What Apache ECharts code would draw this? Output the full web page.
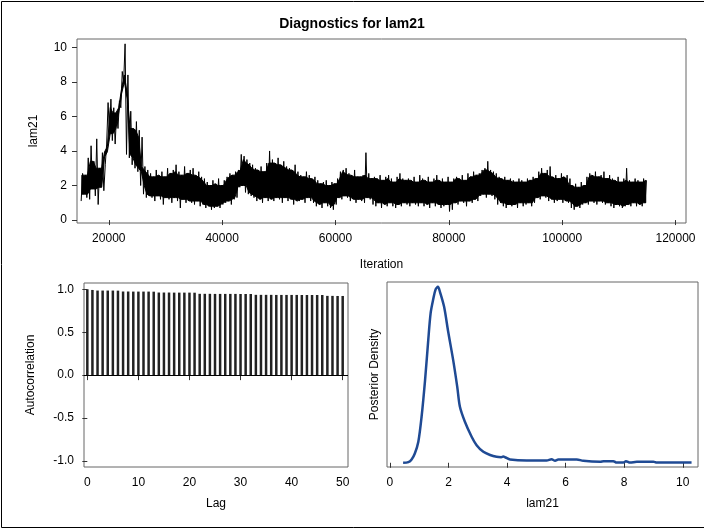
<!DOCTYPE html>
<html>
<head>
<meta charset="utf-8">
<script src="https://cdn.jsdelivr.net/npm/echarts@6/dist/echarts.min.js"></script>
<style>
html,body{margin:0;padding:0;background:#fff;}
#chart{width:704px;height:531px;}
</style>
</head>
<body>
<div id="chart"></div>
<script>
// ---- Trace plot: lam21 vs iteration (low/high range read in each 500-iteration bin) ----
var traceStart = 15000;
var traceBin = 500;
var traceLam21 = [
  1.1,2.7, 1.5,2.6,
  1.3,3.6, 1.2,4.3,
  1.8,3.4, 1.4,4.7, 0.9,3.0, 1.9,3.9, 1.7,3.2,
  4.4,6.8,
  5.0,7.0, 4.6,6.5, 4.4,6.2, 5.3,6.9,
  6.5,8.6,
  8.0,10.2,
  3.8,8.4,
  3.6,6.3,
  3.2,5.3, 3.0,5.7, 2.8,5.2, 2.0,4.8,
  1.5,3.1, 1.3,2.9,
  1.4,2.7, 1.3,2.5, 1.1,2.9, 1.4,2.6, 1.2,2.8, 0.9,2.5, 1.3,3.0, 1.2,2.7, 1.0,2.9, 1.3,3.2, 1.1,2.8, 0.7,2.6, 1.2,3.1, 1.0,2.7, 1.1,2.9,
  1.0,3.0, 0.9,2.6, 1.1,2.8, 0.8,2.5, 0.9,2.4,
  0.7,2.2, 0.8,2.0, 0.6,2.3, 0.7,2.1, 0.8,2.4, 0.7,2.0, 0.9,2.3,
  1.0,2.5, 1.1,2.7, 0.9,2.6, 1.2,2.8, 1.3,2.9,
  1.9,3.8, 2.0,3.7,
  1.6,3.5, 1.5,3.3, 1.4,3.2, 1.3,3.0,
  1.1,2.9, 1.2,3.1, 1.0,2.8, 1.3,3.3, 1.1,4.0,
  1.2,3.5, 1.1,3.3, 1.3,3.6, 1.2,3.2, 1.0,3.4, 1.3,3.1, 1.1,3.0, 1.2,2.9, 0.9,3.2, 1.1,2.8,
  1.1,2.6, 1.2,2.5, 1.0,2.8, 1.3,2.6, 1.1,2.4, 1.0,2.5,
  0.8,2.3, 0.9,2.1, 0.7,2.2, 1.0,2.3, 0.8,2.0, 0.7,2.2, 0.6,2.1, 0.9,2.4,
  1.3,2.8, 1.2,2.9, 1.4,3.0, 1.3,2.7, 1.1,2.6, 1.2,2.9, 1.0,2.5,
  1.2,2.5, 1.1,2.6, 1.0,3.9, 1.3,2.7, 1.2,2.4,
  0.9,2.5, 0.8,2.4, 1.0,2.6, 0.7,2.3, 0.9,2.5, 0.8,2.6, 1.0,2.4, 0.8,2.2, 0.7,2.5, 0.9,2.7, 0.8,2.4, 1.0,2.3,
  0.9,2.4, 0.8,2.3, 1.0,2.5, 0.9,2.2, 0.8,2.6, 1.0,2.4, 0.8,2.3, 0.9,2.5, 0.7,2.2, 1.0,2.4, 0.8,2.6, 0.9,2.3, 0.7,2.4, 0.8,2.2, 0.9,2.5,
  0.5,2.2, 0.6,2.4,
  1.0,2.5, 0.9,2.4, 1.1,2.6, 1.0,2.3, 0.8,2.7, 1.1,2.5, 1.0,2.8, 1.2,2.6, 1.1,2.7,
  1.4,2.9, 1.5,3.0, 1.3,3.4, 1.5,2.9, 1.4,2.8, 1.2,2.7,
  0.9,2.5, 1.0,2.4, 0.8,2.5, 0.7,2.3, 0.9,2.4,
  0.8,2.3, 0.9,2.2, 0.7,2.4, 1.0,2.3, 0.8,2.2, 0.9,2.4, 1.0,2.3, 0.8,2.5, 1.0,2.4,
  1.3,2.8, 1.2,3.0, 1.4,2.7, 1.3,2.9,
  1.1,3.1, 1.2,2.5, 1.0,2.6, 1.1,2.4, 1.2,2.7, 1.0,2.5, 1.1,2.6, 1.0,2.4,
  0.7,2.0, 0.6,2.1, 0.8,1.9, 0.7,2.2, 0.9,2.0,
  1.0,2.5, 0.9,2.7, 1.1,2.6, 1.0,2.8, 0.9,2.5, 1.1,2.6, 1.0,2.8, 0.9,2.4, 1.0,2.6,
  0.8,2.4, 0.7,2.3, 0.9,2.5, 0.8,2.2, 0.7,2.4, 0.8,3.0,
  0.9,2.3, 0.8,2.2, 1.0,2.4, 0.8,2.3, 0.9,2.2, 0.8,2.4, 1.0,2.3
];
var traceXTicks = [20000, 40000, 60000, 80000, 100000, 120000];
var traceYTicks = [0, 2, 4, 6, 8, 10];

// ---- Autocorrelation by lag ----
var acfLags = [];
for (var l = 0; l <= 50; l++) acfLags.push(l);
var acfValues = [
  1.000, 0.992, 0.985, 0.985, 0.985, 0.985, 0.984,
  0.974, 0.974, 0.973, 0.973, 0.973, 0.973, 0.972,
  0.962, 0.962, 0.962, 0.961, 0.961, 0.961, 0.961, 0.960,
  0.947, 0.947, 0.947, 0.946, 0.946, 0.946, 0.946, 0.946, 0.945, 0.945, 0.945,
  0.935, 0.935, 0.935, 0.935, 0.934, 0.934, 0.934, 0.934, 0.934, 0.933, 0.933, 0.933, 0.933, 0.933,
  0.923, 0.923, 0.922, 0.922
];
var acfXTicks = [0, 10, 20, 30, 40, 50];
var acfYTicks = [-1.0, -0.5, 0.0, 0.5, 1.0];

// ---- Posterior density of lam21 ----
var densX = [0.45,0.63,0.74,0.85,0.97,1.08,1.20,1.31,1.39,1.48,1.56,1.64,1.71,1.85,1.99,2.16,2.30,2.39,2.56,2.79,2.96,3.19,3.42,3.64,3.80,3.87,3.95,4.10,4.67,5.35,5.52,5.64,5.75,6.38,6.60,7.18,7.30,7.63,7.74,7.97,8.06,8.20,8.43,9.00,9.11,10.30];
var densY = [0.000,0.004,0.019,0.053,0.120,0.260,0.470,0.700,0.850,0.930,0.985,1.000,0.970,0.886,0.744,0.583,0.430,0.318,0.233,0.148,0.100,0.062,0.044,0.034,0.032,0.036,0.030,0.019,0.013,0.013,0.020,0.012,0.019,0.019,0.011,0.006,0.009,0.009,0.001,0.001,0.009,0.001,0.006,0.006,0.001,0.001];
var densXTicks = [0, 2, 4, 6, 8, 10];

var traceBins = [];
for (var i = 0; i < traceLam21.length; i += 2) {
  traceBins.push([traceStart + (i / 2) * traceBin, traceLam21[i], traceLam21[i + 1]]);
}
// zig-zag path through each bin's low then high (draws the thin excursions)
var traceZig = [];
traceBins.forEach(function (b) {
  traceZig.push([b[0] + traceBin * 0.25, b[1]]);
  traceZig.push([b[0] + traceBin * 0.75, b[2]]);
});
var acfPts = acfLags.map(function (l, i) { return [l, acfValues[i]]; });
var densPts = densX.map(function (x, i) { return [x, densY[i]]; });

var FONT = 'Liberation Sans, Arial, sans-serif';
var txt = '#000';
var frame = '#666';

function xAxisBase(gi, min, max, ticks, name, gap) {
  return {
    type: 'value', gridIndex: gi, min: min, max: max,
    name: name, nameLocation: 'middle', nameGap: gap,
    nameTextStyle: { color: txt, fontSize: 12, fontFamily: FONT },
    axisLine: { show: false },
    axisTick: { show: true, length: 5, lineStyle: { color: '#333' }, customValues: ticks },
    axisLabel: { color: txt, fontSize: 12, fontFamily: FONT, margin: 10, customValues: ticks,
                 formatter: function (v) { return String(v); } },
    splitLine: { show: false }
  };
}
function yAxisBase(gi, min, max, ticks, name, gap, fmt, showTicks) {
  return {
    type: 'value', gridIndex: gi, min: min, max: max,
    name: name, nameLocation: 'middle', nameGap: gap, nameRotate: 90,
    nameTextStyle: { color: txt, fontSize: 12, fontFamily: FONT },
    axisLine: { show: false },
    axisTick: { show: showTicks, length: 5, lineStyle: { color: '#333' }, customValues: ticks },
    axisLabel: { show: showTicks, color: txt, fontSize: 12, fontFamily: FONT, margin: 10, customValues: ticks,
                 formatter: fmt || function (v) { return String(v); } },
    splitLine: { show: false }
  };
}

var chart = echarts.init(document.getElementById('chart'), null, { renderer: 'canvas' });
chart.setOption({
  animation: false,
  backgroundColor: '#fff',
  title: {
    text: 'Diagnostics for lam21', left: 'center', top: 12,
    textStyle: { color: txt, fontSize: 14, fontWeight: 'bold', fontFamily: FONT }
  },
  graphic: [{
    type: 'rect', shape: { x: 1.5, y: 1.5, width: 710, height: 526 },
    style: { fill: 'none', stroke: '#000', lineWidth: 1 }, silent: true
  }],
  grid: [
    { left: 77, top: 39, width: 609, height: 184, show: true, borderColor: frame, borderWidth: 1, backgroundColor: 'transparent' },
    { left: 84, top: 283, width: 264, height: 184, show: true, borderColor: frame, borderWidth: 1, backgroundColor: 'transparent' },
    { left: 387, top: 282, width: 311, height: 185, show: true, borderColor: frame, borderWidth: 1, backgroundColor: 'transparent' }
  ],
  xAxis: [
    xAxisBase(0, 14390, 121854, traceXTicks, 'Iteration', 36),
    xAxisBase(1, -0.65, 51.04, acfXTicks, 'Lag', 31),
    xAxisBase(2, -0.10, 10.52, densXTicks, 'lam21', 31)
  ],
  yAxis: [
    yAxisBase(0, -0.17, 10.48, traceYTicks, 'lam21', 37, null, true),
    yAxisBase(1, -1.07, 1.073, acfYTicks, 'Autocorrelation', 47, function (v) { return v.toFixed(1); }, true),
    yAxisBase(2, -0.024, 1.027, [], 'Posterior Density', 6, null, false)
  ],
  series: [
    {
      // dense core of the trace: band between neighbouring bins' inner extremes
      type: 'custom', xAxisIndex: 0, yAxisIndex: 0, data: traceBins, silent: true,
      encode: { x: 0, y: [1, 2] },
      renderItem: function (params, api) {
        if (params.dataIndex !== 0) return null;
        var n = traceBins.length, upper = [], lower = [];
        for (var k = 0; k < n; k++) {
          var a = traceBins[Math.max(0, k - 1)], b = traceBins[k], c = traceBins[Math.min(n - 1, k + 1)];
          var hi = Math.min(a[2], b[2], c[2]);
          var lo = Math.max(a[1], b[1], c[1]);
          if (lo > hi - 0.3) { var m = (lo + hi) / 2; lo = m - 0.15; hi = m + 0.15; }
          var xc = b[0] + traceBin / 2;
          upper.push(api.coord([xc, hi]));
          lower.push(api.coord([xc, lo]));
        }
        return {
          type: 'polygon',
          shape: { points: upper.concat(lower.reverse()) },
          style: { fill: '#000', stroke: '#000', lineWidth: 1 }
        };
      }
    },
    {
      type: 'line', xAxisIndex: 0, yAxisIndex: 0, data: traceZig, symbol: 'none',
      lineStyle: { color: '#000', width: 1 }, silent: true
    },
    {
      type: 'bar', xAxisIndex: 1, yAxisIndex: 1, data: acfPts, barWidth: 2.5,
      itemStyle: { color: '#222' }, silent: true,
      markLine: {
        silent: true, symbol: 'none', label: { show: false },
        lineStyle: { color: '#000', width: 1, type: 'solid' },
        data: [{ yAxis: 0 }]
      }
    },
    {
      type: 'line', xAxisIndex: 2, yAxisIndex: 2, data: densPts, symbol: 'none', smooth: 0.3,
      lineStyle: { color: '#1f4a94', width: 2.5 }, silent: true
    }
  ]
});
</script>
</body>
</html>
